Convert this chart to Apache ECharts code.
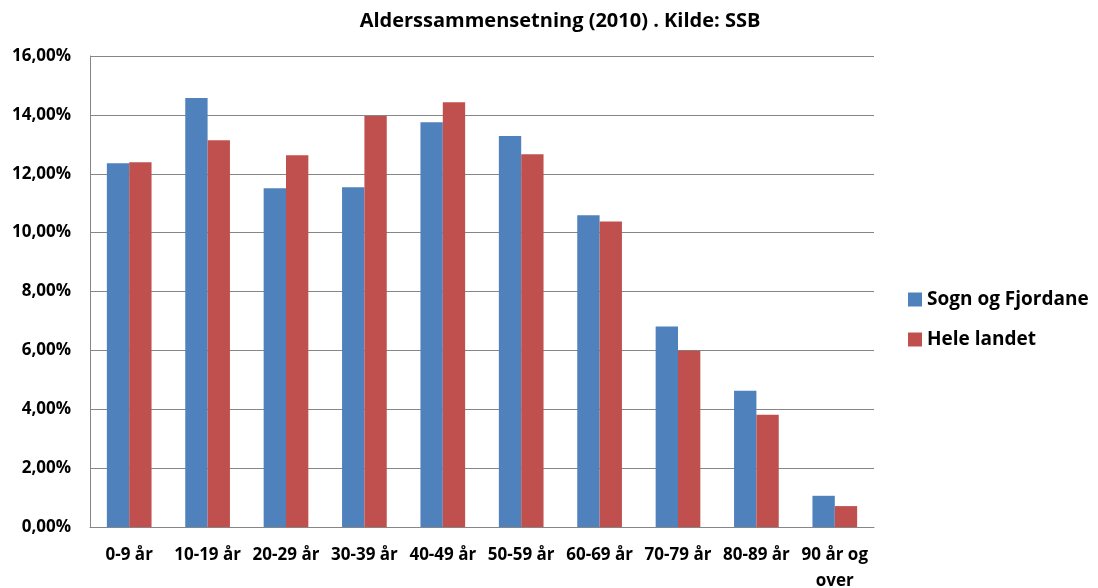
<!DOCTYPE html>
<html>
<head>
<meta charset="utf-8">
<script src="https://cdn.jsdelivr.net/npm/echarts@6/dist/echarts.min.js"></script>
<style>
  html, body { margin: 0; padding: 0; background: #fff; }
  #chart { width: 1098px; height: 588px; }
</style>
</head>
<body>
<div id="chart"></div>
<script>
// aldersgrupper
const categories = ["0-9 år", "10-19 år", "20-29 år", "30-39 år", "40-49 år",
  "50-59 år", "60-69 år", "70-79 år", "80-89 år", "90 år og\nover"];
const sognFjordane = [12.36, 14.57, 11.51, 11.54, 13.75, 13.28, 10.59, 6.81, 4.63, 1.06];
const heleLandet = [12.39, 13.14, 12.63, 13.96, 14.43, 12.66, 10.38, 5.99, 3.81, 0.71];
const seriesNames = ["Sogn og Fjordane", "Hele landet"];

const font = "'Open Sans', 'Liberation Sans', sans-serif";

const myChart = echarts.init(document.getElementById("chart"));
const option = {
  animation: false,
  title: {
    text: "Alderssammensetning (2010) . Kilde: SSB",
    left: 555,
    textAlign: "center",
    top: 6,
    textStyle: { fontFamily: font, fontSize: 20, fontWeight: "bold", color: "#000" }
  },
  legend: {
    orient: "vertical",
    left: 903,
    top: 285,
    itemWidth: 14,
    itemHeight: 14,
    itemGap: 21,
    icon: "rect",
    textStyle: { fontFamily: font, fontSize: 19, fontWeight: "bold", color: "#000" },
    data: seriesNames
  },
  grid: { left: 90, right: 224, top: 56, bottom: 61, containLabel: false, outerBoundsMode: "none" },
  xAxis: {
    type: "category",
    data: categories,
    axisLine: { lineStyle: { color: "#868686", width: 1 } },
    axisTick: { show: false },
    axisLabel: {
      fontFamily: font, fontSize: 17, fontWeight: "bold", color: "#000",
      margin: 15, lineHeight: 26, interval: 0
    }
  },
  yAxis: {
    type: "value",
    min: 0,
    max: 16,
    interval: 2,
    axisLine: { show: true, lineStyle: { color: "#868686", width: 1 } },
    axisTick: { show: false },
    splitLine: { lineStyle: { color: "#868686", width: 1 } },
    axisLabel: {
      fontFamily: font, fontSize: 17, fontWeight: "bold", color: "#000", margin: 19,
      formatter: v => v.toFixed(2).replace(".", ",") + "%"
    }
  },
  series: [
    {
      name: seriesNames[0],
      type: "bar",
      data: sognFjordane,
      barGap: "0%",
      barCategoryGap: "43%",
      itemStyle: { color: "#4F81BD" }
    },
    {
      name: seriesNames[1],
      type: "bar",
      data: heleLandet,
      barGap: "0%",
      barCategoryGap: "43%",
      itemStyle: { color: "#C0504D" }
    }
  ]
};
myChart.setOption(option);
</script>
</body>
</html>
